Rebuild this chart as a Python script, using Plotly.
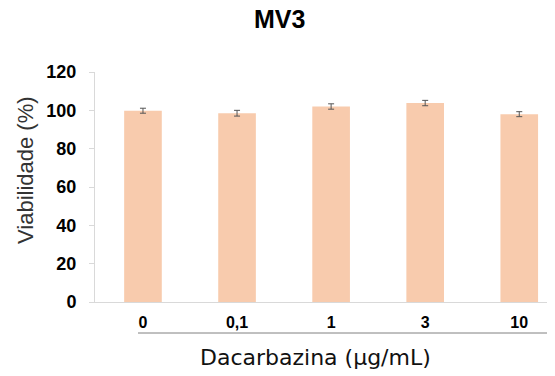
import plotly.graph_objects as go

categories = ["0", "0,1", "1", "3", "10"]
viability = [99.8, 98.5, 102.0, 103.8, 98.0]
errors = [1.3, 1.5, 1.4, 1.4, 1.3]
y_ticks = [0, 20, 40, 60, 80, 100, 120]

W, H = 555, 376
l, r, t, b = 87, 8, 64, 82
OFF = 8  # page body margin offset

fig = go.Figure()
fig.add_trace(go.Bar(
    x=categories, y=viability,
    marker=dict(color="#F8CBAD", line=dict(width=0)),
    width=0.4,
    error_y=dict(type="data", array=errors, visible=True, color="#555555", thickness=1, width=3),
))

pw, ph = W - l - r, H - t - b
def px(x): return (x - OFF - l) / pw
def py(y): return (H - b - (y - OFF)) / ph

fig.update_layout(
    width=W, height=H,
    margin=dict(l=l, r=r, t=t, b=b),
    paper_bgcolor="white", plot_bgcolor="white",
    showlegend=False,
    font=dict(family="Liberation Sans, Arial, sans-serif", color="#000000"),
    xaxis=dict(
        range=[-0.51, 4.38], type="category",
        showline=True, linecolor="#d9d9d9", linewidth=1,
        ticks="", showgrid=False,
        tickfont=dict(size=16, family="Liberation Sans, Arial, sans-serif", weight="bold"),
        ticklabelstandoff=6,
    ),
    yaxis=dict(
        range=[0, 120], tickvals=y_ticks,
        showline=True, linecolor="#d9d9d9", linewidth=1,
        ticks="outside", ticklen=5, tickcolor="#d9d9d9",
        showgrid=False, zeroline=False,
        tickfont=dict(size=18, family="Liberation Sans, Arial, sans-serif", weight="bold"),
        ticklabelstandoff=9,
    ),
    annotations=[
        dict(text="<b>MV3</b>", x=px(279), y=py(19), xref="paper", yref="paper", showarrow=False,
             xanchor="center", yanchor="middle", font=dict(size=25)),
        dict(text="Dacarbazina (µg/mL)", x=px(315), y=py(357), xref="paper", yref="paper",
             showarrow=False, xanchor="center", yanchor="middle",
             font=dict(size=22, family="DejaVu Sans, Verdana, sans-serif", color="#111111")),
        dict(text="Viabilidade (%)", x=px(25), y=py(170), xref="paper", yref="paper",
             showarrow=False, xanchor="center", yanchor="middle",
             textangle=-90, font=dict(size=22, color="#333333")),
    ],
)

fig.add_shape(type="line", xref="paper", yref="paper",
              x0=px(138), x1=px(548), y0=py(333), y1=py(333),
              line=dict(color="#808080", width=1))

fig.write_html("out.html")
